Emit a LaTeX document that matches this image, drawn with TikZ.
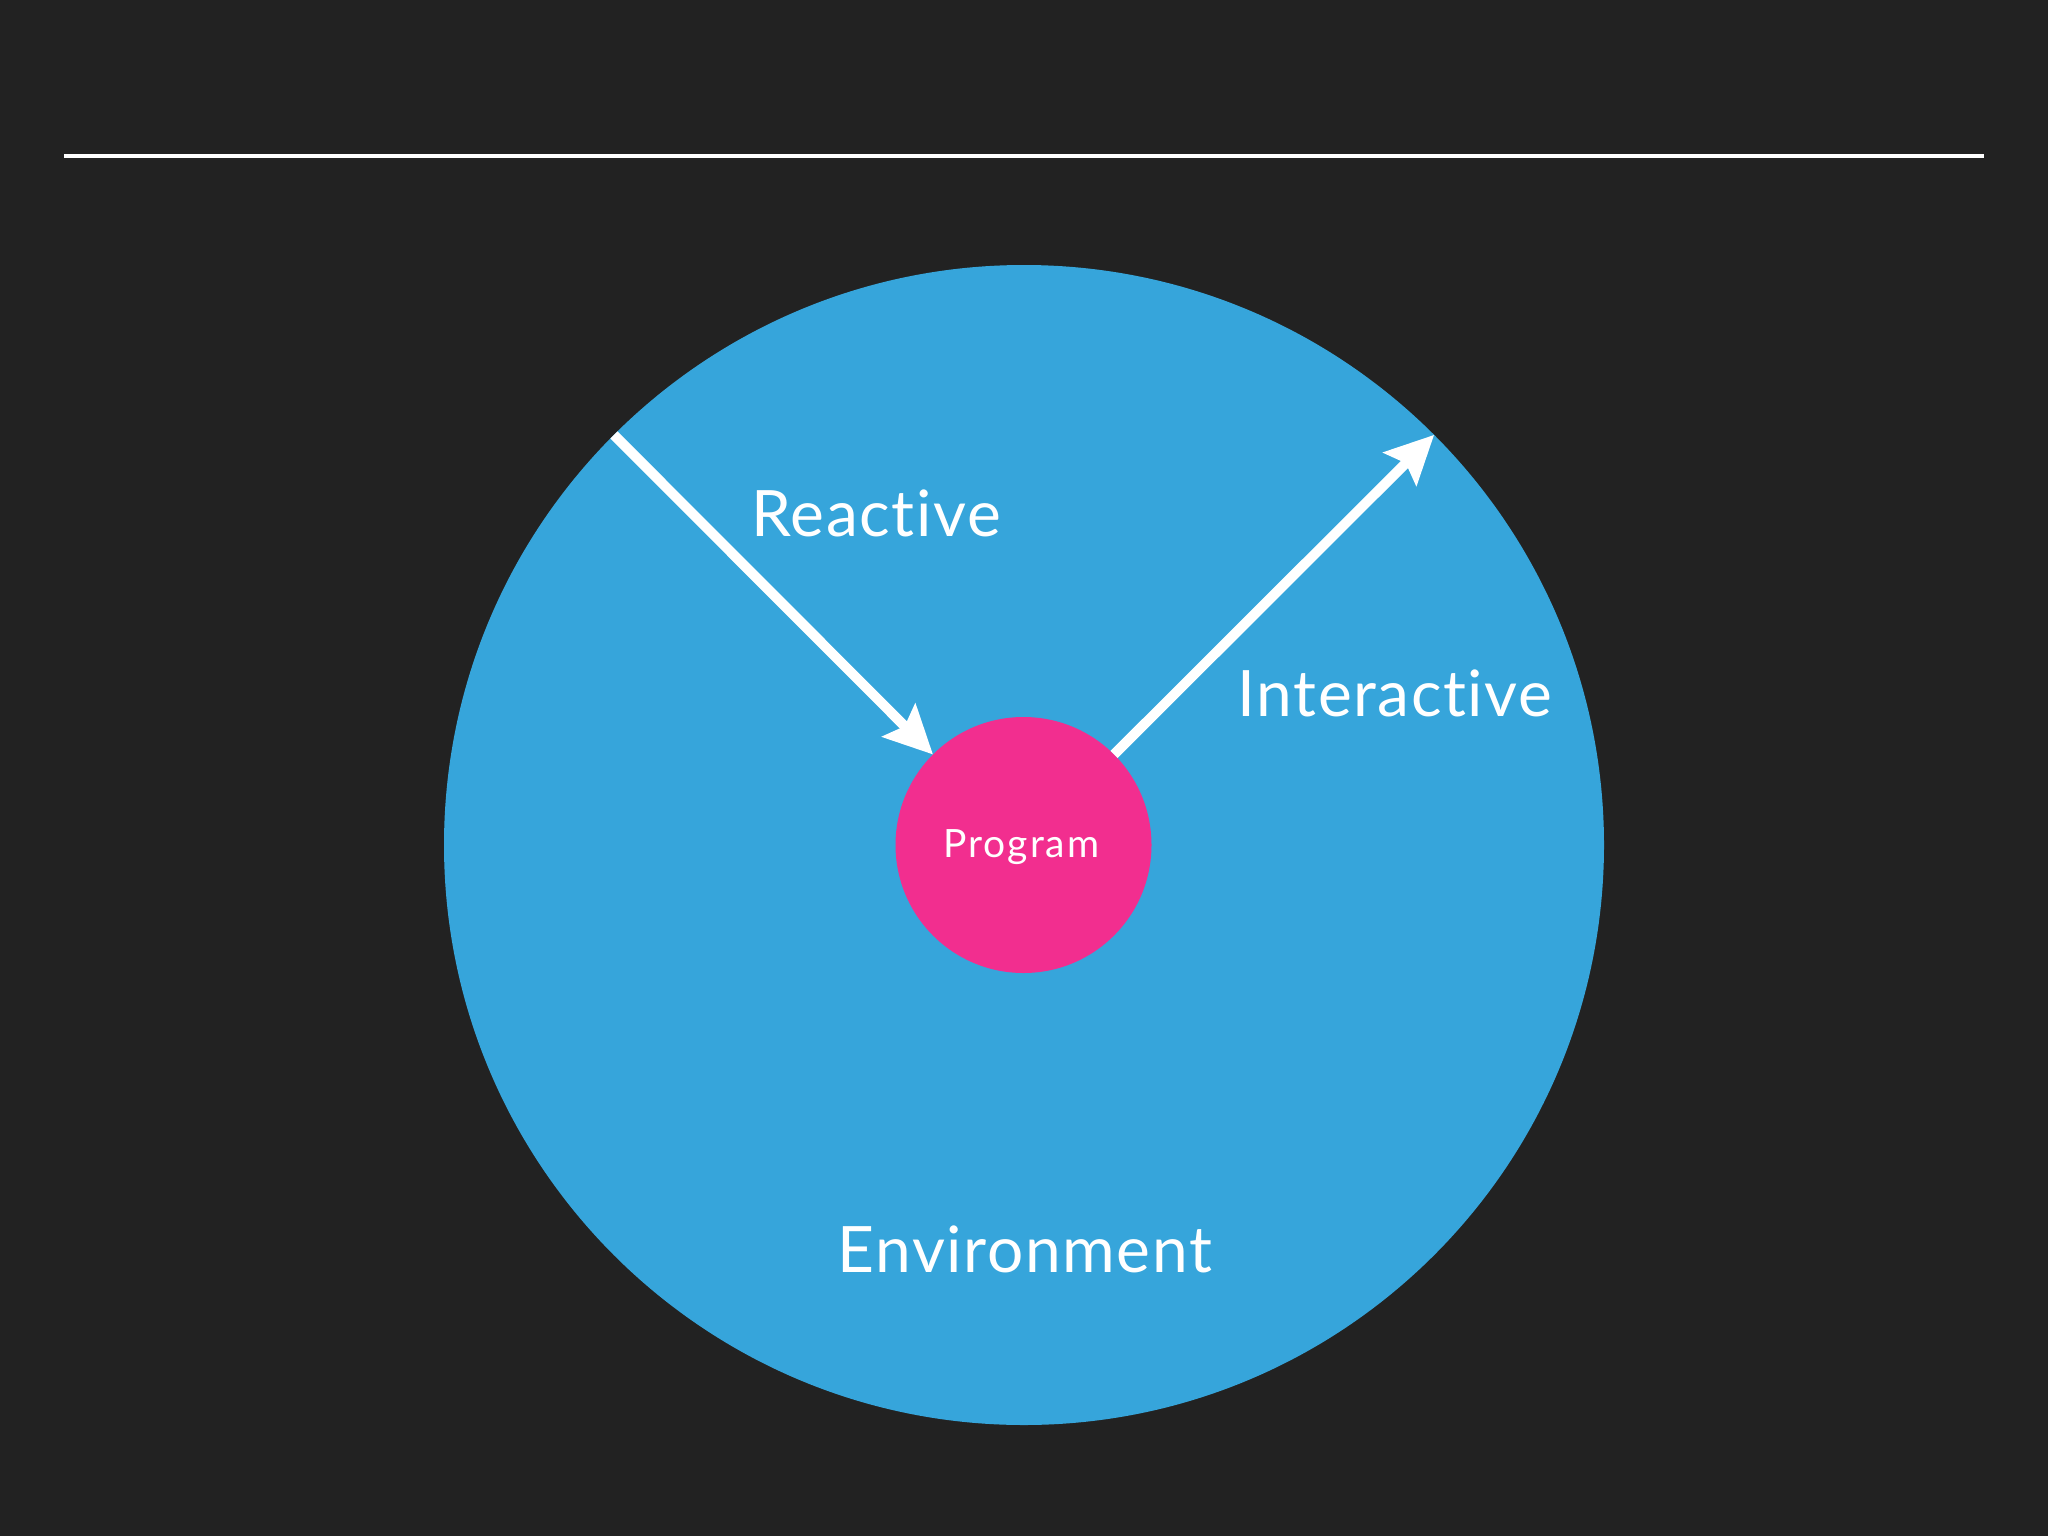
\documentclass[tikz,border=0pt]{standalone}
\usepackage{fontspec}
\setmainfont{Lato}[Ligatures={NoCommon,NoRare}]
\usetikzlibrary{arrows.meta}
\definecolor{bgdark}{HTML}{222222}
\definecolor{envblue}{HTML}{36A5DB}
\definecolor{progpink}{HTML}{F22E8F}
\tikzset{
  flow/.style={draw=white, line width=10pt, -{Stealth[length=48pt, width=46pt, inset=8pt]}},
  biglabel/.style={text=white, anchor=base, inner sep=0pt, font=\fontsize{64}{70}\selectfont\addfontfeatures{LetterSpace=2.5}},
}
\begin{document}
\begin{tikzpicture}[x=1pt, y=-1pt]
  \fill[bgdark] (0,0) rectangle (2048,1536);
  \useasboundingbox (0,0) rectangle (2048,1536);
  \coordinate (ruleL) at (64,156);
  \coordinate (ruleR) at (1984,156);
  \draw[white, line width=4pt] (ruleL) -- (ruleR);
  \node[circle, fill=envblue, minimum size=1160pt, inner sep=0pt, outer sep=0pt] (env) at (1024,845) {};
  \node[circle, fill=progpink, minimum size=256pt, inner sep=0pt, outer sep=0pt] (prog) at (1023.5,845) {};
  \node[text=white, anchor=base, inner sep=0pt, font=\fontsize{39}{44}\selectfont\addfontfeatures{LetterSpace=5}] (progtxt) at (1021.5,857) {Program};
  \draw[flow] (env.135) -- (prog.135);
  \draw[flow] (prog.45) -- (env.45);
  \node[biglabel] (reactive) at (876,536) {Reactive};
  \node[biglabel] (interactive) at (1395,716) {Interactive};
  \node[biglabel] (environment) at (1025,1272) {Environment};
\end{tikzpicture}
\end{document}
